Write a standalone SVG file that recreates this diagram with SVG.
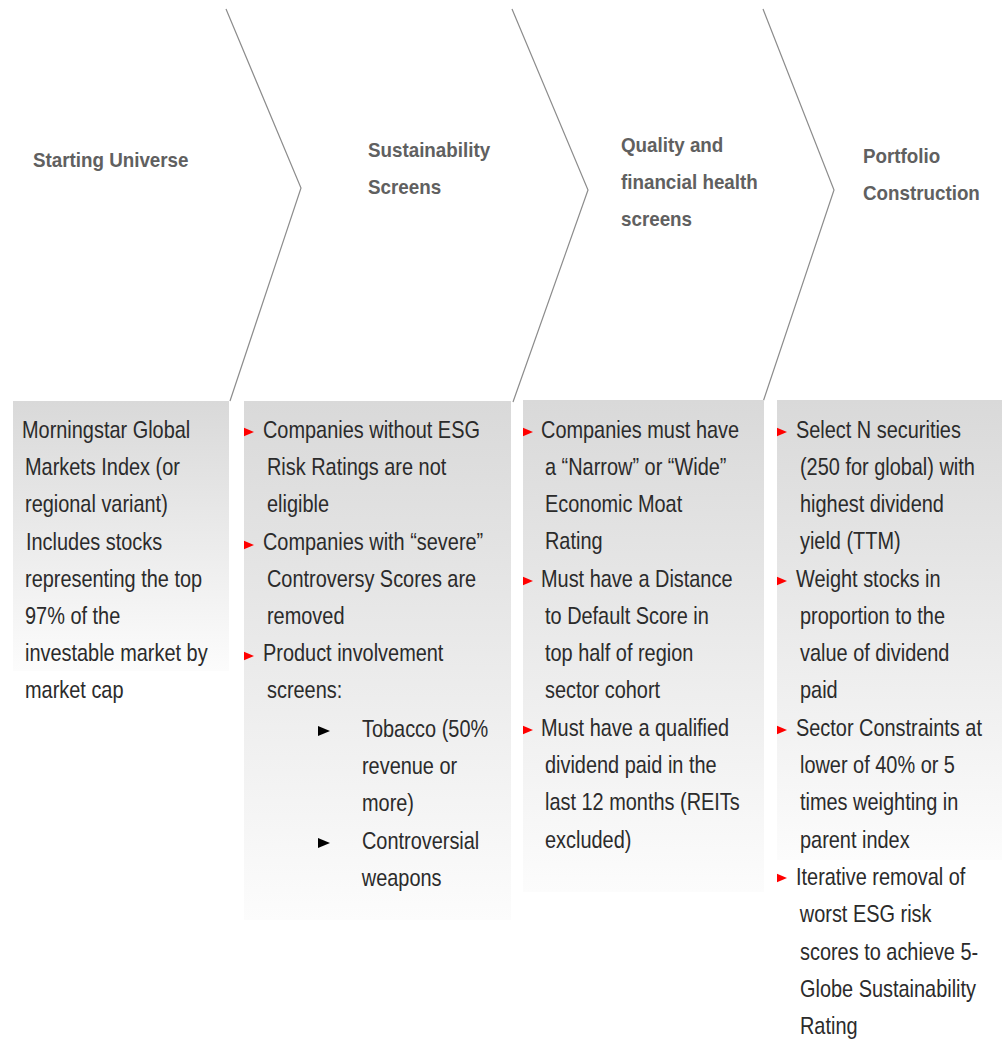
<svg xmlns="http://www.w3.org/2000/svg" width="1005" height="1040" viewBox="0 0 1005 1040">
<defs>
<linearGradient id="fade" x1="0" y1="0" x2="0" y2="1">
<stop offset="0" stop-color="#d9d9d9"/>
<stop offset="1" stop-color="#fcfcfc"/>
</linearGradient>
<polygon id="rb" points="0,-4.2 10,0 0,4.2" fill="#ff0000"/>
<polygon id="bb" points="0,-5 12,0 0,5" fill="#000000"/>
<style>
.hd{font-family:"Liberation Sans Narrow","Liberation Sans",Arial,sans-serif;font-weight:bold;font-size:20px;fill:#606060;transform-box:fill-box;transform-origin:0 0;transform:scaleX(0.94)}
.bd{font-family:"Liberation Sans Narrow","Liberation Sans",Arial,sans-serif;font-size:24px;fill:#2b2b2b;transform-box:fill-box;transform-origin:0 0;transform:scaleX(0.83)}
.chev{fill:none;stroke:#8c8c8c;stroke-width:1.2}
</style>
</defs>
<rect width="1005" height="1040" fill="#ffffff"/>
<g id="connectors">
<polyline class="chev" points="226,9 301,188 230,401"/>
<polyline class="chev" points="512,9 588,190 513,402"/>
<polyline class="chev" points="763,9 834,190 763,402"/>
</g>
<g id="header-starting-universe">
<text class="hd" x="33" y="167">Starting Universe</text>
</g>
<g id="header-sustainability">
<text class="hd" x="368" y="157">Sustainability</text>
<text class="hd" x="368" y="194">Screens</text>
</g>
<g id="header-quality">
<text class="hd" x="621" y="152">Quality and</text>
<text class="hd" x="621" y="189">financial health</text>
<text class="hd" x="621" y="226">screens</text>
</g>
<g id="header-portfolio">
<text class="hd" x="863" y="163">Portfolio</text>
<text class="hd" x="863" y="200">Construction</text>
</g>
<g id="box-starting-universe">
<rect x="13" y="401" width="216" height="270" fill="url(#fade)"/>
<text class="bd" x="22" y="438">Morningstar Global</text>
<text class="bd" x="25" y="475">Markets Index (or</text>
<text class="bd" x="25" y="512">regional variant)</text>
<text class="bd" x="26" y="550">Includes stocks</text>
<text class="bd" x="25" y="587">representing the top</text>
<text class="bd" x="25" y="624">97% of the</text>
<text class="bd" x="25" y="661">investable market by</text>
<text class="bd" x="25" y="698">market cap</text>
</g>
<g id="box-sustainability">
<rect x="244" y="401" width="267" height="519" fill="url(#fade)"/>
<use href="#rb" x="244" y="432"/>
<text class="bd" x="263" y="438">Companies without ESG</text>
<text class="bd" x="267" y="475">Risk Ratings are not</text>
<text class="bd" x="267" y="512">eligible</text>
<use href="#rb" x="244" y="545"/>
<text class="bd" x="263" y="550">Companies with “severe”</text>
<text class="bd" x="267" y="587">Controversy Scores are</text>
<text class="bd" x="267" y="624">removed</text>
<use href="#rb" x="244" y="656"/>
<text class="bd" x="263" y="661">Product involvement</text>
<text class="bd" x="267" y="698">screens:</text>
<use href="#bb" x="318" y="731"/>
<text class="bd" x="362" y="737">Tobacco (50%</text>
<text class="bd" x="362" y="774">revenue or</text>
<text class="bd" x="362" y="811">more)</text>
<use href="#bb" x="318" y="843"/>
<text class="bd" x="362" y="849">Controversial</text>
<text class="bd" x="362" y="886">weapons</text>
</g>
<g id="box-quality">
<rect x="523" y="400" width="241" height="492" fill="url(#fade)"/>
<use href="#rb" x="523" y="432"/>
<text class="bd" x="541" y="438">Companies must have</text>
<text class="bd" x="545" y="475">a “Narrow” or “Wide”</text>
<text class="bd" x="545" y="512">Economic Moat</text>
<text class="bd" x="545" y="549">Rating</text>
<use href="#rb" x="523" y="581"/>
<text class="bd" x="541" y="587">Must have a Distance</text>
<text class="bd" x="545" y="624">to Default Score in</text>
<text class="bd" x="545" y="661">top half of region</text>
<text class="bd" x="545" y="698">sector cohort</text>
<use href="#rb" x="523" y="730"/>
<text class="bd" x="541" y="736">Must have a qualified</text>
<text class="bd" x="545" y="773">dividend paid in the</text>
<text class="bd" x="545" y="810">last 12 months (REITs</text>
<text class="bd" x="545" y="848">excluded)</text>
</g>
<g id="box-portfolio">
<rect x="777" y="400" width="225" height="460" fill="url(#fade)"/>
<use href="#rb" x="777" y="432"/>
<text class="bd" x="796" y="438">Select N securities</text>
<text class="bd" x="800" y="475">(250 for global) with</text>
<text class="bd" x="800" y="512">highest dividend</text>
<text class="bd" x="800" y="549">yield (TTM)</text>
<use href="#rb" x="777" y="581"/>
<text class="bd" x="796" y="587">Weight stocks in</text>
<text class="bd" x="800" y="624">proportion to the</text>
<text class="bd" x="800" y="661">value of dividend</text>
<text class="bd" x="800" y="698">paid</text>
<use href="#rb" x="777" y="730"/>
<text class="bd" x="796" y="736">Sector Constraints at</text>
<text class="bd" x="800" y="773">lower of 40% or 5</text>
<text class="bd" x="800" y="810">times weighting in</text>
<text class="bd" x="800" y="848">parent index</text>
<use href="#rb" x="777" y="878"/>
<text class="bd" x="796" y="885">Iterative removal of</text>
<text class="bd" x="800" y="922">worst ESG risk</text>
<text class="bd" x="800" y="960">scores to achieve 5-</text>
<text class="bd" x="800" y="997">Globe Sustainability</text>
<text class="bd" x="800" y="1034">Rating</text>
</g>
</svg>
